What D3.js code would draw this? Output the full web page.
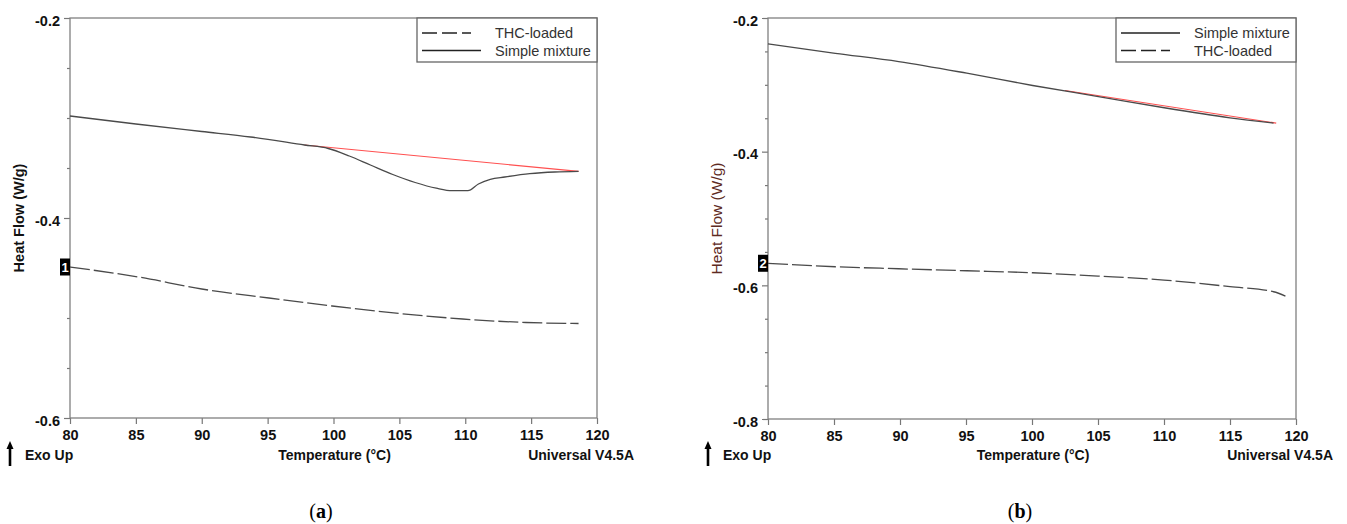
<!DOCTYPE html>
<html><head><meta charset="utf-8">
<script src="https://cdn.jsdelivr.net/npm/d3@7"></script>
<style>body{margin:0;background:#fff} svg{display:block}</style>
</head><body>
<svg id="c" width="1347" height="524"></svg>
<script>
// ---------- data ----------
const tempTicks = [80, 85, 90, 95, 100, 105, 110, 115, 120];
const yTicksA = [-0.2, -0.4, -0.6];
const yTicksB = [-0.2, -0.4, -0.6, -0.8];

// Panel (a)
const mixTempA = [80, 85, 90, 93.7, 97.8, 99.6, 101.2, 102.8, 104.5, 106.2, 107.8, 109.0, 110.2, 111.0, 111.9, 113, 114.9, 116.8, 118.6];
const mixValA  = [-0.298, -0.306, -0.3135, -0.319, -0.327, -0.3305, -0.338, -0.347, -0.3565, -0.3645, -0.3702, -0.3727, -0.3727, -0.366, -0.3613, -0.359, -0.3557, -0.354, -0.3534];
const thcTempA = [80, 85.2, 90, 95.1, 99.9, 105, 109.8, 114.6, 118.6];
const thcValA  = [-0.449, -0.459, -0.471, -0.480, -0.488, -0.4955, -0.501, -0.5045, -0.5055];
const baseTempA = [97.8, 118.6];
const baseValA  = [-0.327, -0.3534];

// Panel (b)
const mixTempB = [80, 85.1, 89.9, 95.06, 100.05, 105.03, 110.02, 115, 118.3];
const mixValB  = [-0.2388, -0.2528, -0.2652, -0.2826, -0.301, -0.3175, -0.3343, -0.3493, -0.3573];
const thcTempB = [80, 85.1, 89.9, 95.06, 100.05, 105, 110, 115, 118.3, 119.2];
const thcValB  = [-0.567, -0.5722, -0.5752, -0.5782, -0.5812, -0.5861, -0.5921, -0.602, -0.6096, -0.616];
const baseTempB = [102.5, 118.5];
const baseValB  = [-0.3085, -0.3573];

const legendA = ["THC-loaded", "Simple mixture"];
const legendB = ["Simple mixture", "THC-loaded"];
const markerA = "1", markerB = "2";
const captionA = "a", captionB = "b";

// ---------- drawing ----------
const svg = d3.select("#c");
const FONT = "'Liberation Sans', Arial, sans-serif";
const zip = (xs, ys) => xs.map((x, i) => [x, ys[i]]);

function panel(o) {
  const x = d3.scaleLinear().domain([80, 120]).range([o.x0, o.x1]);
  const y = d3.scaleLinear().domain(o.yDomain).range([o.y1, o.y0]);
  const g = svg.append("g");

  // minor y ticks
  const minor = d3.range(Math.round((o.yDomain[1] - o.yDomain[0]) / 0.05) + 1)
    .map(i => +(o.yDomain[0] + i * 0.05).toFixed(3))
    .filter(v => !o.yTicks.some(t => Math.abs(t - v) < 1e-6));
  const gMinor = g.append("g").attr("transform", `translate(${o.x0},0)`)
    .call(d3.axisLeft(y).tickValues(minor).tickSize(3).tickFormat(""));
  gMinor.select(".domain").remove();
  gMinor.selectAll("line").attr("stroke", "#777").attr("stroke-width", 1.2);

  const gy = g.append("g").attr("transform", `translate(${o.x0},0)`)
    .call(d3.axisLeft(y).tickValues(o.yTicks).tickSize(6).tickPadding(4).tickFormat(d => d.toFixed(1)));
  gy.select(".domain").remove();
  gy.selectAll("line").attr("stroke", "#777").attr("stroke-width", 1.2);
  gy.selectAll("text").attr("font-family", FONT).attr("font-size", 14.5).attr("font-weight", "bold").attr("fill", "#111")
    .attr("dy", "0.5em");

  const gx = g.append("g").attr("transform", `translate(0,${o.y1})`)
    .call(d3.axisBottom(x).tickValues(tempTicks).tickSize(6).tickPadding(6).tickFormat(d3.format("d")));
  gx.select(".domain").remove();
  gx.selectAll("line").attr("stroke", "#777").attr("stroke-width", 1.2);
  gx.selectAll("text").attr("font-family", FONT).attr("font-size", 14.5).attr("font-weight", "bold").attr("fill", "#111");

  // frame
  g.append("rect").attr("x", o.x0).attr("y", o.y0).attr("width", o.x1 - o.x0).attr("height", o.y1 - o.y0)
    .attr("fill", "none").attr("stroke", "#808080").attr("stroke-width", 1.3);

  const line = d3.line().x(d => x(d[0])).y(d => y(d[1])).curve(d3.curveMonotoneX);
  // baseline (red)
  g.append("path").datum(zip(o.baseT, o.baseV)).attr("d", d3.line().x(d => x(d[0])).y(d => y(d[1])))
    .attr("fill", "none").attr("stroke", "#ff5050").attr("stroke-width", 1.1);
  // curves
  g.append("path").datum(zip(o.mixT, o.mixV)).attr("d", line)
    .attr("fill", "none").attr("stroke", "#4a4a4a").attr("stroke-width", 1.3);
  g.append("path").datum(zip(o.thcT, o.thcV)).attr("d", line)
    .attr("fill", "none").attr("stroke", "#4a4a4a").attr("stroke-width", 1.3).attr("stroke-dasharray", "20,4");

  // marker box
  const my = y(o.thcV[0]);
  g.append("rect").attr("x", o.x0 - 10).attr("y", my - 8.5).attr("width", 10).attr("height", 17).attr("fill", "#000");
  g.append("text").attr("x", o.x0 - 5).attr("y", my + 5).attr("text-anchor", "middle")
    .attr("font-family", FONT).attr("font-size", 13).attr("font-weight", "bold").attr("fill", "#fff").text(o.marker);

  // legend
  const lx = o.x1 - 180, ly = o.y0;
  g.append("rect").attr("x", lx).attr("y", ly).attr("width", 180).attr("height", 44)
    .attr("fill", "#fff").attr("stroke", "#666").attr("stroke-width", 1.3);
  o.legend.forEach((name, i) => {
    const yy = ly + 15 + i * 17.5;
    const dashed = name === "THC-loaded";
    g.append("line").attr("x1", lx + 5).attr("x2", lx + (dashed ? 54 : 64)).attr("y1", yy).attr("y2", yy)
      .attr("stroke", "#222").attr("stroke-width", 1.6).attr("stroke-dasharray", dashed ? "15,5" : null);
    g.append("text").attr("x", lx + 78).attr("y", yy + 5).attr("font-family", FONT).attr("font-size", 14.5)
      .attr("fill", "#333").text(name);
  });

  // y label
  g.append("text").attr("transform", `translate(${o.x0 - 51},${(o.y0 + o.y1) / 2}) rotate(-90)`)
    .attr("text-anchor", "middle").attr("dy", "0.35em")
    .attr("font-family", FONT).attr("font-size", o.yLabBold ? 14.5 : 15.5)
    .attr("font-weight", o.yLabBold ? "bold" : "normal").attr("fill", o.yLabColor).text("Heat Flow (W/g)");

  // bottom texts
  const by = 460;
  g.append("line").attr("x1", o.x0 - 60).attr("x2", o.x0 - 60).attr("y1", 466).attr("y2", 447)
    .attr("stroke", "#000").attr("stroke-width", 2.6);
  g.append("path").attr("d", `M${o.x0 - 63.5},449 L${o.x0 - 60},441 L${o.x0 - 56.5},449 Z`).attr("fill", "#000");
  g.append("text").attr("x", o.x0 - 45).attr("y", by).attr("font-family", FONT).attr("font-size", 14)
    .attr("font-weight", "bold").attr("fill", "#111").text("Exo Up");
  g.append("text").attr("x", (o.x0 + o.x1) / 2 + 1).attr("y", by).attr("text-anchor", "middle").attr("font-family", FONT)
    .attr("font-size", 14).attr("font-weight", "bold").attr("fill", "#111").text("Temperature (°C)");
  g.append("text").attr("x", o.x1 + 37).attr("y", by).attr("text-anchor", "end").attr("font-family", FONT)
    .attr("font-size", 14).attr("font-weight", "bold").attr("fill", "#111").text("Universal V4.5A");

  // caption
  const cap = g.append("text").attr("x", o.capX).attr("y", 518).attr("text-anchor", "middle")
    .attr("font-family", "'Liberation Serif', 'Times New Roman', serif").attr("font-size", 20).attr("fill", "#000");
  cap.append("tspan").text("(");
  cap.append("tspan").attr("font-weight", "bold").text(o.caption);
  cap.append("tspan").text(")");
}

panel({ x0: 70, x1: 597, y0: 18, y1: 418, yDomain: [-0.6, -0.2], yTicks: yTicksA,
  mixT: mixTempA, mixV: mixValA, thcT: thcTempA, thcV: thcValA, baseT: baseTempA, baseV: baseValA,
  legend: legendA, marker: markerA, caption: captionA, capX: 321, yLabBold: true, yLabColor: "#111" });
panel({ x0: 768, x1: 1296, y0: 18, y1: 419, yDomain: [-0.8, -0.2], yTicks: yTicksB,
  mixT: mixTempB, mixV: mixValB, thcT: thcTempB, thcV: thcValB, baseT: baseTempB, baseV: baseValB,
  legend: legendB, marker: markerB, caption: captionB, capX: 1020, yLabBold: false, yLabColor: "#5e2a22" });
</script>
</body></html>
